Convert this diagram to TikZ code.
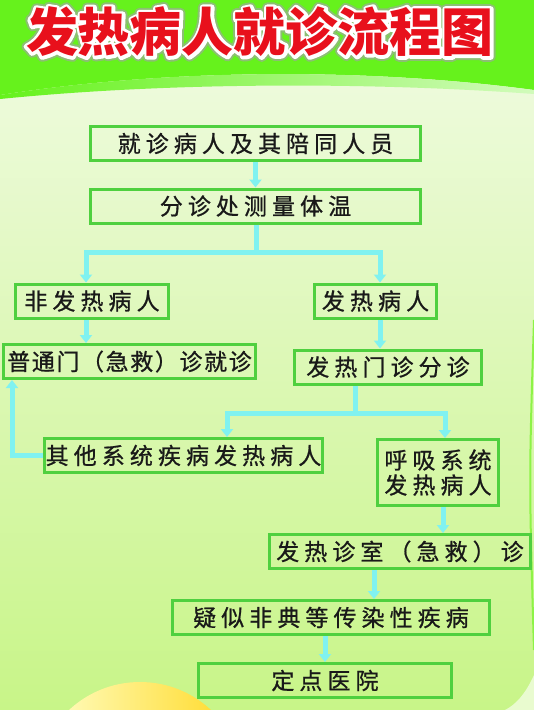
\documentclass[tikz,border=0pt]{standalone}
\usepackage{fontspec}
\usetikzlibrary{arrows.meta,positioning}
\newfontfamily\cjk{Noto Sans CJK SC}
\newfontfamily\boxfont[LetterSpace=22,FakeBold=0.8]{Noto Sans CJK SC}
\newfontfamily\boxfonttight[LetterSpace=7,FakeBold=0.8]{Noto Sans CJK SC}
\definecolor{bandgreen}{HTML}{66F21C}
\definecolor{glowyellow}{HTML}{FFE020}
\definecolor{titlered}{HTML}{E8101C}
\definecolor{bodytop}{HTML}{F2FBE6}
\definecolor{bodybot}{HTML}{C8F588}
\definecolor{boxgreen}{HTML}{4FD03F}
\definecolor{flowcyan}{HTML}{80F2F0}
\definecolor{sunyellow}{HTML}{FFD820}
% stroked glyphs: width, rgb, text
\newcommand\strokeword[3]{%
    \special{pdf:literal direct 1 Tr #1 w 1 j #2 RG}#3\special{pdf:literal direct 0 Tr}}
\newcommand\titlestring{发热病人就诊流程图}
\tikzset{
    box/.style={draw=boxgreen, line width=3pt, inner sep=0pt, minimum height=34pt,
        text=black!90, font={\boxfont\fontsize{23}{25}\selectfont}},
    titletext/.style={font={\cjk\bfseries\fontsize{52}{52}\selectfont}, inner sep=0pt},
    flow/.style={draw=flowcyan, line width=5pt},
    flowarr/.style={flow, -{Triangle[width=12pt,length=8pt]}},
}
\begin{document}
\begin{tikzpicture}[x=1pt, y=-1pt]
    \useasboundingbox (0,0) rectangle (534,710);
    \begin{scope}
    \clip (0,0) rectangle (534,710);
    % Background
    \shade[top color=bodytop, bottom color=bodybot] (0,0) rectangle (534,710);
    \shade[left color=yellow!20, right color=sunyellow] (140,786) circle (104pt);
    \fill[white, opacity=0.6] (534,675) .. controls (525,695) and (515,705) .. (505,710) -- (534,710) -- cycle;
    \draw[bandgreen!60!bodybot, line width=2pt] (534,320) .. controls (529,480) .. (534,650);
    % Title band
    \fill[bandgreen] (0,0) -- (534,0) -- (534,90) .. controls (370,68) and (170,68) .. (0,95) -- cycle;
    \shade[left color=bandgreen, middle color=glowyellow, right color=bandgreen!30!white]
        (0,95) .. controls (170,68) and (370,68) .. (534,90) -- (534,94)
        .. controls (370,82) and (170,82) .. (0,99) -- cycle;
    \end{scope}
    % Title
    \node[titletext] (title) at (260,32)
        {\rlap{\strokeword{10}{0.55 0.75 0.45}{\titlestring}}%
         \rlap{\strokeword{6}{1 1 1}{\titlestring}}%
         \textcolor{titlered}{\titlestring}};
    % Boxes
    \node[box, minimum width=330pt] (visit) at (255.5,143.5) {就诊病人及其陪同人员};
    \node[box, minimum width=330pt] (triage) at (255.5,206) {分诊处测量体温};
    \node[box, minimum width=153pt] (nonfever) at (92,301) {非发热病人};
    \node[box, minimum width=122pt] (fever) at (375.5,301) {发热病人};
    \node[box, minimum width=252pt, font={\boxfonttight\fontsize{23}{25}\selectfont}] (general) at (129.5,361.5) {普通门（急救）诊就诊};
    \node[box, minimum width=187pt] (feverclinic) at (388,367) {发热门诊分诊};
    \node[box, minimum width=278pt] (othersys) at (183.5,455.5) {其他系统疾病发热病人};
    \node[box, minimum width=121pt, minimum height=66pt, align=center] (resp) at (438,472.5) {呼吸系统\\发热病人};
    \node[box, minimum width=261pt] (feverroom) at (400,551.5) {发热诊室（急救）诊};
    \node[box, minimum width=317pt] (suspect) at (331,617.5) {疑似非典等传染性疾病};
    \node[box, minimum width=253pt] (hospital) at (325,680.5) {定点医院};
    % Junctions
    \coordinate (split1) at (256,252);
    \coordinate (left1) at (86,252);
    \coordinate (right1) at (380,252);
    \coordinate (split2) at (355,413);
    \coordinate (left2) at (227,413);
    \coordinate (right2) at (445,413);
    \coordinate (back) at (12,455);
    % Arrows
    \draw[flowarr] (visit.south) -- (triage.north);
    \draw[flow] (triage.south -| split1) -- (split1);
    \draw[flowarr] (split1) -- (left1) -- (nonfever.north -| left1);
    \draw[flowarr] (split1) -- (right1) -- (fever.north -| right1);
    \draw[flowarr] (nonfever.south -| left1) -- (general.north -| left1);
    \draw[flowarr] (fever.south -| right1) -- (feverclinic.north -| right1);
    \draw[flow] (feverclinic.south -| split2) -- (split2);
    \draw[flowarr] (split2) -- (left2) -- (othersys.north -| left2);
    \draw[flowarr] (split2) -- (right2) -- (resp.north -| right2);
    \draw[flowarr] (othersys.west) -| (general.south -| back);
    \draw[flowarr] ([xshift=5pt]resp.south) -- ([xshift=5pt]resp.south |- feverroom.north);
    \draw[flowarr] ([xshift=-26pt]feverroom.south) -- ([xshift=-26pt]feverroom.south |- suspect.north);
    \draw[flowarr] (suspect.south -| hospital.north) -- (hospital.north);
\end{tikzpicture}
\end{document}
